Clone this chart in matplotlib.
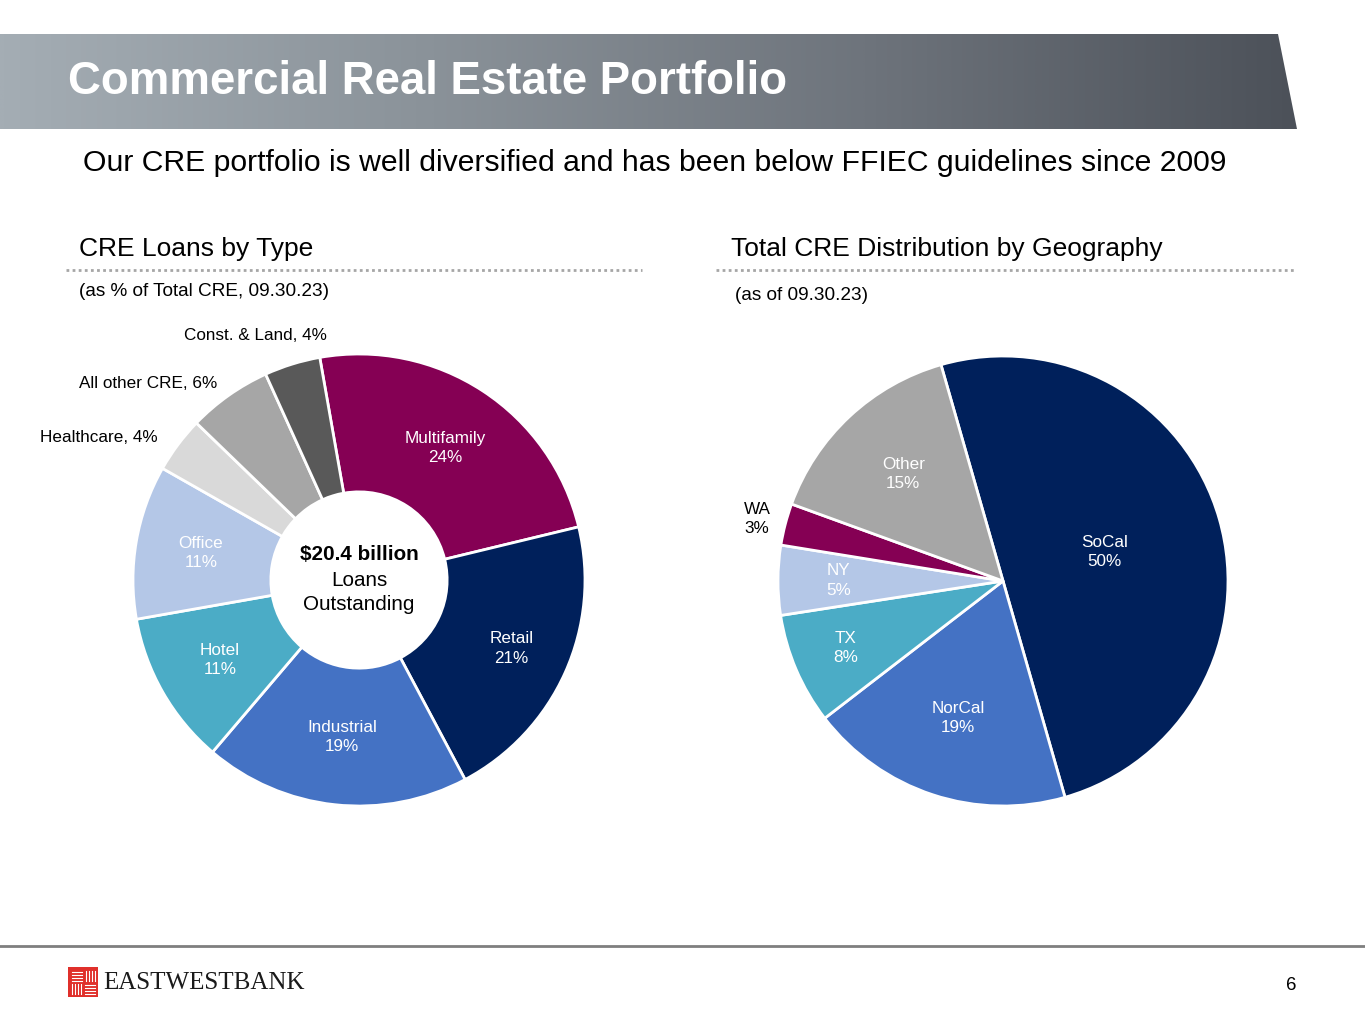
import numpy as np
import matplotlib
matplotlib.use("Agg")
import matplotlib.pyplot as plt
from matplotlib.patches import Polygon, Rectangle
from matplotlib.colors import LinearSegmentedColormap

plt.rcParams["font.family"] = ["Liberation Sans", "DejaVu Sans"]

# CRE loans by type (% of total CRE, 09.30.23)
type_labels = ["Multifamily", "Retail", "Industrial", "Hotel", "Office",
               "Healthcare", "All other CRE", "Const. & Land"]
type_values = [24, 21, 19, 11, 11, 4, 6, 4]
type_colors = ["#850054", "#00205B", "#4472C4", "#4BACC6", "#B4C7E7",
               "#D9D9D9", "#A6A6A6", "#595959"]

# Total CRE distribution by geography (as of 09.30.23)
geo_labels = ["SoCal", "NorCal", "TX", "NY", "WA", "Other"]
geo_values = [50, 19, 8, 5, 3, 15]
geo_colors = ["#00205B", "#4472C4", "#4BACC6", "#B4C7E7", "#850054", "#A6A6A6"]

W, H = 1365, 1024
LBL = 12.3
fig = plt.figure(figsize=(W / 100, H / 100), dpi=100)
bg = fig.add_axes([0, 0, 1, 1])
bg.set_xlim(0, W)
bg.set_ylim(H, 0)
bg.axis("off")

# header banner with gradient
banner = Polygon([(0, 34), (1278, 34), (1297, 129), (0, 129)], closed=True,
                 facecolor="none", edgecolor="none")
bg.add_patch(banner)
cmap = LinearSegmentedColormap.from_list("hdr", ["#A4ADB4", "#8A9299", "#6E747C", "#4C5159"])
grad = np.linspace(0, 1, 512).reshape(1, -1)
im = bg.imshow(grad, cmap=cmap, extent=[0, 1297, 129, 34], aspect="auto", zorder=1)
im.set_clip_path(banner)
bg.text(68, 82, "Commercial Real Estate Portfolio", color="white", fontsize=32.9,
        fontweight="bold", va="center", ha="left", zorder=2)

bg.text(83, 163, "Our CRE portfolio is well diversified and has been below FFIEC guidelines since 2009",
        fontsize=21.7, va="center", ha="left")

# section headers
bg.text(79, 249, "CRE Loans by Type", fontsize=19, va="center", ha="left")
bg.text(731, 249, "Total CRE Distribution by Geography", fontsize=19, va="center", ha="left")
for x0, x1 in [(66, 642), (716, 1294)]:
    bg.plot([x0, x1], [270, 270], color="#A6A6A6", lw=2, ls=(0, (1, 1.2)))
bg.text(79, 291, "(as % of Total CRE, 09.30.23)", fontsize=13.7, va="center", ha="left")
bg.text(735, 296, "(as of 09.30.23)", fontsize=13.7, va="center", ha="left")

# footer
bg.plot([0, W], [946, 946], color="#7F7F7F", lw=2)
bg.add_patch(Rectangle((68, 967), 30, 30, facecolor="#E0302B", edgecolor="none"))
for k in range(4):
    bg.plot([72, 82], [972 + k * 3, 972 + k * 3], color="white", lw=0.8)
    bg.plot([86 + k * 3, 86 + k * 3], [971, 981], color="white", lw=0.8)
    bg.plot([72 + k * 3, 72 + k * 3], [984, 994], color="white", lw=0.8)
    bg.plot([85, 95], [985 + k * 3, 985 + k * 3], color="white", lw=0.8)
bg.text(103, 983, "EASTWESTBANK", family=["Liberation Serif", "DejaVu Serif"],
        fontsize=18, va="center", ha="left", color="#1A1A1A")
bg.text(1291, 986, "6", fontsize=13.5, va="center", ha="center")


def pie_axes(cx, cy, r):
    return fig.add_axes([(cx - r) / W, (H - cy - r) / H, 2 * r / W, 2 * r / H])


# donut: loans by type
ax1 = pie_axes(359, 580, 226)
wedges1, _ = ax1.pie(type_values, colors=type_colors, startangle=100, counterclock=False,
                     wedgeprops=dict(width=0.61, edgecolor="white", linewidth=2))
ax1.set_xlim(-1, 1)
ax1.set_ylim(-1, 1)
ax1.axis("off")
inside_r = [0.70, 0.74, 0.70, 0.71, 0.71]
for w, lab, val, rr in zip(wedges1[:5], type_labels[:5], type_values[:5], inside_r):
    a = np.deg2rad((w.theta1 + w.theta2) / 2)
    ax1.text(rr * np.cos(a), rr * np.sin(a), f"{lab}\n{val}%", color="white",
             fontsize=LBL, ha="center", va="center", linespacing=1.35)
bg.text(158, 437, f"{type_labels[5]}, {type_values[5]}%", fontsize=LBL, ha="right", va="center")
bg.text(217, 383, f"{type_labels[6]}, {type_values[6]}%", fontsize=LBL, ha="right", va="center")
bg.text(255, 335, f"{type_labels[7]}, {type_values[7]}%", fontsize=LBL, ha="center", va="center")
bg.text(359, 555, "$20.4 billion", fontsize=14.9, fontweight="bold", ha="center", va="center")
bg.text(359, 581, "Loans", fontsize=14.9, ha="center", va="center")
bg.text(359, 605, "Outstanding", fontsize=14.9, ha="center", va="center")

# pie: geography
ax2 = pie_axes(1003, 581, 225)
wedges2, _ = ax2.pie(geo_values, colors=geo_colors, startangle=106, counterclock=False,
                     wedgeprops=dict(edgecolor="white", linewidth=2))
ax2.set_xlim(-1, 1)
ax2.set_ylim(-1, 1)
ax2.axis("off")
geo_r = [0.47, 0.64, 0.76, 0.73, None, 0.65]
for w, lab, val, rr in zip(wedges2, geo_labels, geo_values, geo_r):
    if rr is None:
        continue
    a = np.deg2rad((w.theta1 + w.theta2) / 2)
    ax2.text(rr * np.cos(a), rr * np.sin(a), f"{lab}\n{val}%", color="white",
             fontsize=LBL, ha="center", va="center", linespacing=1.35)
bg.text(757, 519, f"{geo_labels[4]}\n{geo_values[4]}%", fontsize=LBL, ha="center",
        va="center", linespacing=1.35)

fig.savefig("out.png", dpi=100)
